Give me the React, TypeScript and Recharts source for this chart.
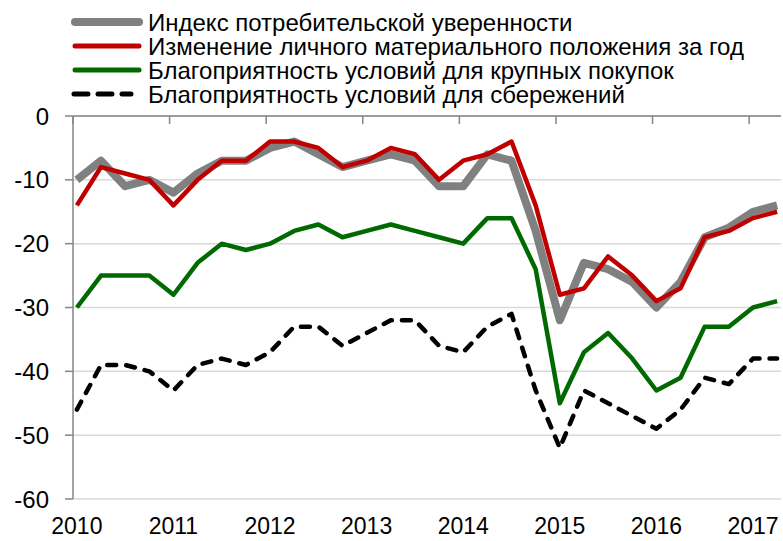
import React from "react";
import { LineChart, Line, XAxis, YAxis, CartesianGrid } from "recharts";

// квартальные точки (доли года), 2010 Q1 ... 2017 Q2
const periods = [
  2010.04, 2010.29, 2010.54, 2010.79, 2011.04, 2011.29, 2011.54, 2011.79,
  2012.04, 2012.29, 2012.54, 2012.79, 2013.04, 2013.29, 2013.54, 2013.79,
  2014.04, 2014.29, 2014.54, 2014.79, 2015.04, 2015.29, 2015.54, 2015.79,
  2016.04, 2016.29, 2016.54, 2016.79, 2017.04, 2017.29,
];

const confidenceIndex = [
  -10, -7, -11, -10, -12, -9, -7, -7, -5, -4, -6, -8, -7, -6, -7,
  -11, -11, -6, -7, -18, -32, -23, -24, -26, -30, -26, -19, -17.5, -15, -14,
];
const personalFinances = [
  -14, -8, -9, -10, -14, -10, -7, -7, -4, -4, -5, -8, -7, -5, -6,
  -10, -7, -6, -4, -14, -28, -27, -22, -25, -29, -27, -19, -18, -16, -15,
];
const bigPurchases = [
  -30, -25, -25, -25, -28, -23, -20, -21, -20, -18, -17, -19, -18, -17, -18,
  -19, -20, -16, -16, -24, -45, -37, -34, -38, -43, -41, -33, -33, -30, -29,
];
const savings = [
  -46, -39, -39, -40, -43, -39, -38, -39, -37, -33, -33, -36, -34, -32, -32,
  -36, -37, -33, -31, -43, -52, -43, -45, -47, -49, -46, -41, -42, -38, -38,
];

const yearTicks = [2010, 2011, 2012, 2013, 2014, 2015, 2016, 2017];
const yearLabelTicks = [2010.04, 2011.04, 2012.04, 2013.04, 2014.04, 2015.04, 2016.04, 2017.04];
const yTicks = [0, -10, -20, -30, -40, -50, -60];

const seriesNames = [
  "Индекс потребительской уверенности",
  "Изменение личного материального положения за год",
  "Благоприятность условий для крупных покупок",
  "Благоприятность условий для сбережений",
];

const data = periods.map((t, i) => ({
  t,
  index: confidenceIndex[i],
  finances: personalFinances[i],
  purchases: bigPurchases[i],
  savings: savings[i],
}));

const AXIS = "#868686";
const GRID = "#d9d9d9";
const GRAY = "#808080";
const RED = "#c00000";
const GREEN = "#006a00";
const FONT = "'Liberation Sans', Arial, sans-serif";

// засечки верхней оси смотрят вниз, внутрь области графика
const TopTick = (props: any) => {
  const { x, y } = props;
  return <line x1={x} x2={x} y1={y} y2={y + 8} stroke={AXIS} strokeWidth={1.5} />;
};

const LegendBox = () => {
  const rows = [
    { color: GRAY, width: 8, dash: undefined },
    { color: RED, width: 5, dash: undefined },
    { color: GREEN, width: 5, dash: undefined },
    { color: "#000", width: 5, dash: "14 10" },
  ];
  return (
    <svg width={783} height={110} style={{ position: "absolute", left: 0, top: 0 }}>
      {rows.map((r, i) => {
        const cy = 22 + i * 24;
        return (
          <g key={i}>
            <line
              x1={r.dash ? 74 : 75}
              x2={r.dash ? 131 : 139}
              y1={cy}
              y2={cy}
              stroke={r.color}
              strokeWidth={r.width}
              strokeLinecap="round"
              strokeDasharray={r.dash}
            />
            <text x={148} y={cy + 8.5} fontSize={24} fontFamily={FONT} fill="#000">
              {seriesNames[i]}
            </text>
          </g>
        );
      })}
    </svg>
  );
};

export default function App() {
  return (
    <div style={{ position: "relative", width: 783, height: 541, fontFamily: FONT, background: "#fff" }}>
      <style>{`body{margin:0}`}</style>
      <LineChart
        width={783}
        height={541}
        data={data}
        margin={{ top: 106, right: 2, bottom: 2, left: 13 }}
      >
        <CartesianGrid horizontal vertical={false} stroke={GRID} strokeWidth={1.5} />
        <XAxis
          xAxisId="top"
          orientation="top"
          dataKey="t"
          type="number"
          domain={[2010, 2017.33]}
          ticks={yearTicks}
          interval={0}
          height={10}
          tickSize={0}
          tickMargin={0}
          tickLine={false}
          axisLine={{ stroke: AXIS, strokeWidth: 1.5 }}
          tick={<TopTick />}
          allowDataOverflow
        />
        <XAxis
          dataKey="t"
          type="number"
          domain={[2010, 2017.33]}
          ticks={yearLabelTicks}
          interval={0}
          height={40}
          tickSize={0}
          tickMargin={19}
          axisLine={false}
          tickLine={false}
          tick={{ fill: "#000", fontSize: 23 }}
          tickFormatter={(v: number) => String(Math.floor(v))}
          allowDataOverflow
        />
        <YAxis
          type="number"
          domain={[-60, 0]}
          ticks={yTicks}
          interval={0}
          width={60}
          tickSize={8}
          tickMargin={16}
          axisLine={{ stroke: AXIS, strokeWidth: 1.5 }}
          tickLine={{ stroke: AXIS, strokeWidth: 1.5 }}
          tick={{ fill: "#000", fontSize: 24 }}
        />
        <Line
          dataKey="index"
          stroke={GRAY}
          strokeWidth={8}
          dot={false}
          strokeLinejoin="round"
          isAnimationActive={false}
        />
        <Line
          dataKey="finances"
          stroke={RED}
          strokeWidth={4.5}
          dot={false}
          strokeLinejoin="round"
          isAnimationActive={false}
        />
        <Line
          dataKey="purchases"
          stroke={GREEN}
          strokeWidth={4.5}
          dot={false}
          strokeLinejoin="round"
          isAnimationActive={false}
        />
        <Line
          dataKey="savings"
          stroke="#000"
          strokeWidth={4.5}
          strokeDasharray="9 10"
          strokeLinecap="round"
          dot={false}
          strokeLinejoin="round"
          isAnimationActive={false}
        />
      </LineChart>
      <LegendBox />
    </div>
  );
}
